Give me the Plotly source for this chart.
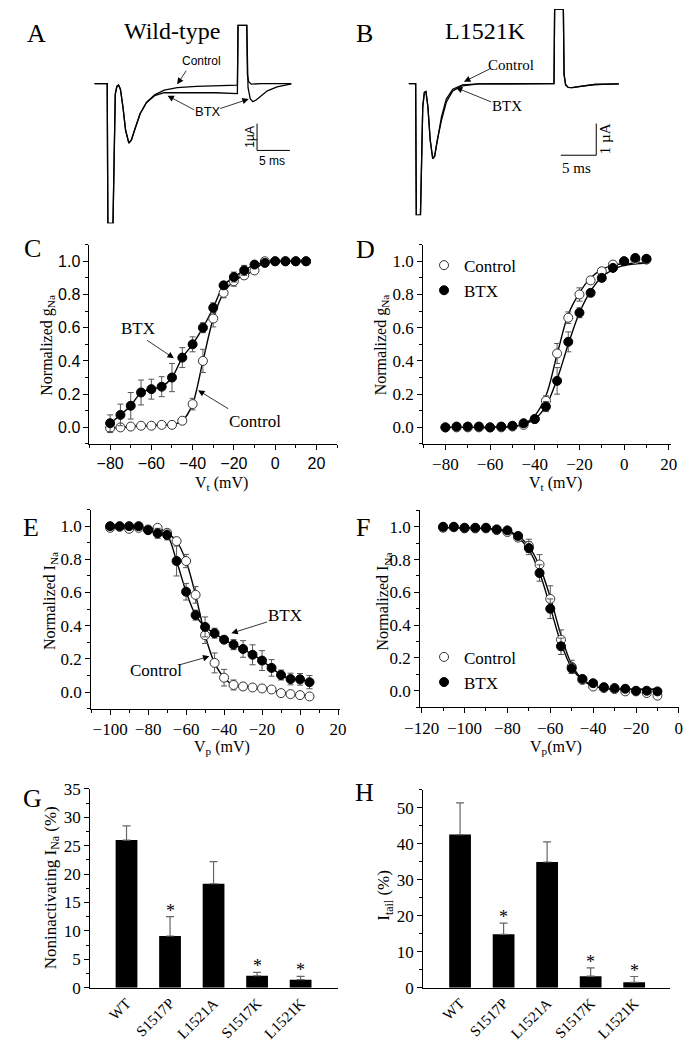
import plotly.graph_objects as go

W, H = 695, 1050
SERIF = "Liberation Serif"
SANS = "Liberation Sans"

def px(x):
    return x / W

def py(y):
    return 1 - y / H

# ---- A: wild-type current traces (ms, uA)
a_t_ctrl = [0, 1.96, 2.06, 2.84, 3.19, 3.43, 3.68, 3.97, 4.36, 4.75, 5.25, 5.64, 6.13, 6.96, 7.94, 9.17,
            10.64, 12.6, 15.54, 18.48, 21.76, 21.86, 23.19, 23.28, 23.48, 23.87, 25.34, 30.0]
a_i_ctrl = [0, 0, -5.21, -5.21, -0.39, -0.10, -0.05, -0.21, -0.88, -1.73, -2.22, -2.10, -1.73, -1.12, -0.70, -0.42,
            -0.24, -0.15, -0.10, -0.07, -0.06, 2.17, 2.17, 0.34, 0.07, -0.02, 0, 0]
a_t_btx = [0, 1.96, 2.06, 2.84, 3.19, 3.43, 3.68, 3.97, 4.36, 4.75, 5.25, 5.64, 6.13, 6.96, 7.94, 9.17,
           10.64, 12.6, 15.54, 18.48, 21.76, 21.86, 23.19, 23.38, 23.72, 24.12, 24.61, 25.34, 26.32, 27.79, 30.0]
a_i_btx = [0, 0, -5.21, -5.21, -0.39, -0.10, -0.05, -0.21, -0.88, -1.73, -2.22, -2.10, -1.73, -1.12, -0.70, -0.45,
           -0.34, -0.34, -0.33, -0.34, -0.37, 2.17, 2.17, -0.15, -0.57, -0.67, -0.61, -0.45, -0.27, -0.12, -0.01]

# ---- B: L1521K current traces (ms, uA)
b_t_ctrl = [0, 1.0, 1.09, 1.68, 2.0, 2.23, 2.45, 2.73, 3.05, 3.41, 3.68, 4.05, 4.64, 5.32, 6.23, 7.6, 9.87,
            20.51, 20.6, 21.83, 21.93, 22.15, 22.52, 23.06, 24.43, 26.25, 29.66]
b_i_ctrl = [0, 0, -4.15, -4.15, -0.74, -0.28, -0.25, -0.74, -1.78, -2.37, -2.29, -1.78, -1.05, -0.49, -0.18, -0.04, -0.01,
            0, 2.35, 2.35, 0.29, -0.04, -0.12, -0.13, -0.08, -0.03, -0.01]
b_t_btx = b_t_ctrl
b_i_btx = [0, 0, -4.15, -4.15, -0.74, -0.28, -0.25, -0.74, -1.78, -2.37, -2.29, -1.78, -1.16, -0.59, -0.23, -0.07, -0.01,
           0, 2.35, 2.35, 0.29, -0.04, -0.12, -0.13, -0.08, -0.03, -0.01]

# ---- C: activation, wild-type
c_v = [-80, -75, -70, -65, -60, -55, -50, -45, -40, -35, -30, -25, -20, -15, -10, -5, 0, 5, 10, 15]
c_btx = [0.025, 0.075, 0.13, 0.21, 0.23, 0.245, 0.30, 0.42, 0.50, 0.60, 0.72, 0.855, 0.905, 0.945, 0.98, 0.99, 1.0, 1.0, 1.0, 1.0]
c_btx_err = [0.05, 0.065, 0.08, 0.075, 0.06, 0.06, 0.085, 0.06, 0.045, 0.03, 0.03, 0.02, 0.03, 0.03, 0.015, 0.01, 0.01, 0.01, 0.01, 0.01]
c_ctrl = [-0.005, 0.0, 0.005, 0.01, 0.01, 0.015, 0.015, 0.04, 0.14, 0.40, 0.655, 0.81, 0.88, 0.915, 0.945, 1.0, 1.0, 1.0, 1.0, 1.0]
c_ctrl_err = [0.025, 0.015, 0.012, 0.012, 0.012, 0.012, 0.015, 0.015, 0.035, 0.07, 0.05, 0.03, 0.03, 0.02, 0.02, 0.01, 0.01, 0.01, 0.01, 0.01]

# ---- D: activation, L1521K
d_v = [-80, -75, -70, -65, -60, -55, -50, -45, -40, -35, -30, -25, -20, -15, -10, -5, 0, 5, 10]
d_btx = [0.0, 0.005, 0.005, 0.005, 0.0, 0.005, 0.01, 0.025, 0.05, 0.125, 0.28, 0.515, 0.69, 0.81, 0.90, 0.96, 1.0, 1.02, 1.015]
d_btx_err = [0.01, 0.01, 0.01, 0.01, 0.01, 0.01, 0.01, 0.01, 0.02, 0.03, 0.08, 0.06, 0.03, 0.02, 0.02, 0.01, 0.01, 0.01, 0.01]
d_ctrl = [0.0, 0.0, 0.0, 0.0, 0.0, 0.0, 0.005, 0.015, 0.05, 0.16, 0.445, 0.66, 0.80, 0.885, 0.94, 0.98, 1.0, 1.01, 1.01]
d_ctrl_err = [0.01, 0.01, 0.01, 0.01, 0.01, 0.01, 0.01, 0.01, 0.02, 0.03, 0.06, 0.035, 0.04, 0.02, 0.02, 0.01, 0.01, 0.01, 0.01]
d_fit_v = [-80, -70, -60, -50, -45, -40, -35, -30, -25, -20, -15, -10, -5, 0, 5, 10]
d_fit_ctrl = [0.0, 0.0, 0.0, 0.005, 0.02, 0.07, 0.19, 0.44, 0.68, 0.81, 0.90, 0.95, 0.975, 0.985, 0.988, 0.99]
d_fit_btx = [0.0, 0.0, 0.0, 0.005, 0.02, 0.05, 0.13, 0.29, 0.50, 0.69, 0.82, 0.905, 0.95, 0.975, 0.985, 0.99]

# ---- E: inactivation, wild-type
e_v = [-100, -95, -90, -85, -80, -75, -70, -65, -60, -55, -50, -45, -40, -35, -30, -25, -20, -15, -10, -5, 0, 5]
e_btx = [1.0, 1.0, 1.0, 1.0, 0.976, 0.957, 0.947, 0.79, 0.605, 0.464, 0.393, 0.355, 0.316, 0.286, 0.26, 0.225,
         0.19, 0.146, 0.103, 0.079, 0.077, 0.06]
e_btx_err = [0.01, 0.01, 0.01, 0.01, 0.02, 0.03, 0.03, 0.09, 0.05, 0.03, 0.06, 0.03, 0.02, 0.03, 0.05, 0.06,
             0.06, 0.05, 0.03, 0.035, 0.035, 0.04]
e_ctrl = [0.99, 0.996, 0.984, 0.99, 0.98, 0.99, 0.96, 0.91, 0.79, 0.586, 0.343, 0.176, 0.087, 0.043, 0.034, 0.028,
          0.022, 0.016, -0.006, -0.012, -0.018, -0.026]
e_ctrl_err = [0.015, 0.01, 0.015, 0.01, 0.01, 0.015, 0.02, 0.02, 0.04, 0.05, 0.05, 0.06, 0.05, 0.03, 0.02, 0.015,
              0.01, 0.01, 0.01, 0.01, 0.01, 0.01]

# ---- F: inactivation, L1521K
f_v = [-110, -105, -100, -95, -90, -85, -80, -75, -70, -65, -60, -55, -50, -45, -40, -35, -30, -25, -20, -15, -10]
f_btx = [1.0, 1.0, 0.994, 0.994, 0.994, 0.984, 0.978, 0.944, 0.87, 0.718, 0.5, 0.271, 0.136, 0.072, 0.046, 0.022,
         0.016, 0.012, 0.0, 0.0, -0.004]
f_btx_err = [0.005, 0.005, 0.005, 0.005, 0.005, 0.01, 0.01, 0.02, 0.04, 0.05, 0.06, 0.05, 0.03, 0.015, 0.01, 0.01,
             0.01, 0.01, 0.01, 0.01, 0.01]
f_ctrl = [0.994, 0.997, 0.99, 0.99, 0.99, 0.98, 0.968, 0.934, 0.884, 0.77, 0.56, 0.311, 0.146, 0.066, 0.026, 0.016,
          0.01, -0.004, -0.004, -0.014, -0.03]
f_ctrl_err = [0.005, 0.005, 0.005, 0.005, 0.005, 0.01, 0.01, 0.02, 0.04, 0.06, 0.08, 0.06, 0.04, 0.015, 0.01, 0.01,
              0.01, 0.01, 0.01, 0.01, 0.01]
f_fit_v = [-110, -100, -90, -80, -75, -70, -65, -60, -55, -50, -45, -40, -35, -30, -20, -10]
f_fit_ctrl = [0.995, 0.993, 0.99, 0.975, 0.945, 0.88, 0.76, 0.57, 0.34, 0.16, 0.07, 0.03, 0.015, 0.01, 0.008, 0.008]
f_fit_btx = [0.995, 0.993, 0.988, 0.97, 0.935, 0.86, 0.72, 0.51, 0.29, 0.14, 0.065, 0.03, 0.015, 0.01, 0.01, 0.01]

# ---- G, H: bar charts
mutants = ["WT", "S1517P", "L1521A", "S1517K", "L1521K"]
g_val = [26.0, 9.1, 18.3, 2.1, 1.4]
g_err = [2.5, 3.4, 3.9, 0.6, 0.6]
h_val = [42.5, 14.8, 34.9, 3.2, 1.5]
h_err = [8.8, 3.1, 5.6, 2.3, 1.6]
significant = [False, True, False, True, True]

fig = go.Figure()

trace_line = dict(color="black", width=1.3)
for t, i in [(a_t_ctrl, a_i_ctrl), (a_t_btx, a_i_btx)]:
    fig.add_trace(go.Scatter(x=t, y=i, mode="lines", line=trace_line, xaxis="x", yaxis="y", showlegend=False))
for t, i in [(b_t_ctrl, b_i_ctrl), (b_t_btx, b_i_btx)]:
    fig.add_trace(go.Scatter(x=t, y=i, mode="lines", line=trace_line, xaxis="x2", yaxis="y2", showlegend=False))

# scale bars (5 ms, 1 uA)
fig.add_trace(go.Scatter(x=[24.75, 24.75, 24.75 + 5], y=[-1.49, -2.49, -2.49], mode="lines",
                         line=dict(color="black", width=1), xaxis="x", yaxis="y", showlegend=False))
fig.add_trace(go.Scatter(x=[26.47 - 5, 26.47, 26.47], y=[-2.26, -2.26, -1.26], mode="lines",
                         line=dict(color="black", width=1), xaxis="x2", yaxis="y2", showlegend=False))

def err(arr):
    return dict(type="data", array=arr, visible=True, color="#555", thickness=1, width=3)

open_marker = dict(symbol="circle", size=9, color="white", line=dict(color="#333", width=1))
filled_marker = dict(symbol="circle", size=9, color="black", line=dict(color="black", width=1))
fit_line = dict(color="black", width=1.4)

# C
fig.add_trace(go.Scatter(x=c_v, y=c_ctrl, mode="lines", line=dict(fit_line, shape="spline", smoothing=0.8),
                         xaxis="x3", yaxis="y3", showlegend=False))
fig.add_trace(go.Scatter(x=c_v, y=c_btx, mode="lines", line=dict(fit_line, shape="spline", smoothing=0.8),
                         xaxis="x3", yaxis="y3", showlegend=False))
fig.add_trace(go.Scatter(x=c_v, y=c_ctrl, mode="markers", marker=open_marker, error_y=err(c_ctrl_err),
                         xaxis="x3", yaxis="y3", showlegend=False))
fig.add_trace(go.Scatter(x=c_v, y=c_btx, mode="markers", marker=filled_marker, error_y=err(c_btx_err),
                         xaxis="x3", yaxis="y3", showlegend=False))

# D
fig.add_trace(go.Scatter(x=d_fit_v, y=d_fit_ctrl, mode="lines", line=dict(fit_line, shape="spline"),
                         xaxis="x4", yaxis="y4", showlegend=False))
fig.add_trace(go.Scatter(x=d_fit_v, y=d_fit_btx, mode="lines", line=dict(fit_line, shape="spline"),
                         xaxis="x4", yaxis="y4", showlegend=False))
fig.add_trace(go.Scatter(x=d_v, y=d_ctrl, mode="markers", marker=open_marker, error_y=err(d_ctrl_err),
                         name="Control", legend="legend", xaxis="x4", yaxis="y4"))
fig.add_trace(go.Scatter(x=d_v, y=d_btx, mode="markers", marker=filled_marker, error_y=err(d_btx_err),
                         name="BTX", legend="legend", xaxis="x4", yaxis="y4"))

# E
fig.add_trace(go.Scatter(x=e_v, y=e_ctrl, mode="lines", line=dict(fit_line, shape="spline", smoothing=0.8),
                         xaxis="x5", yaxis="y5", showlegend=False))
fig.add_trace(go.Scatter(x=e_v, y=e_btx, mode="lines", line=dict(fit_line, shape="spline", smoothing=0.8),
                         xaxis="x5", yaxis="y5", showlegend=False))
fig.add_trace(go.Scatter(x=e_v, y=e_ctrl, mode="markers", marker=open_marker, error_y=err(e_ctrl_err),
                         xaxis="x5", yaxis="y5", showlegend=False))
fig.add_trace(go.Scatter(x=e_v, y=e_btx, mode="markers", marker=filled_marker, error_y=err(e_btx_err),
                         xaxis="x5", yaxis="y5", showlegend=False))

# F
fig.add_trace(go.Scatter(x=f_fit_v, y=f_fit_ctrl, mode="lines", line=dict(fit_line, shape="spline"),
                         xaxis="x6", yaxis="y6", showlegend=False))
fig.add_trace(go.Scatter(x=f_fit_v, y=f_fit_btx, mode="lines", line=dict(fit_line, shape="spline"),
                         xaxis="x6", yaxis="y6", showlegend=False))
fig.add_trace(go.Scatter(x=f_v, y=f_ctrl, mode="markers", marker=open_marker, error_y=err(f_ctrl_err),
                         name="Control", legend="legend2", xaxis="x6", yaxis="y6"))
fig.add_trace(go.Scatter(x=f_v, y=f_btx, mode="markers", marker=filled_marker, error_y=err(f_btx_err),
                         name="BTX", legend="legend2", xaxis="x6", yaxis="y6"))

# G, H bars
for vals, errs, xa, ya in [(g_val, g_err, "x7", "y7"), (h_val, h_err, "x8", "y8")]:
    fig.add_trace(go.Bar(x=mutants, y=vals, width=0.5, marker=dict(color="black", line=dict(width=0)),
                         error_y=dict(type="data", array=errs, arrayminus=[0] * len(errs), symmetric=False,
                                      color="#666", thickness=1.2, width=4),
                         xaxis=xa, yaxis=ya, showlegend=False))

def axis(domain, rng, **kw):
    d = dict(domain=domain, range=rng, showline=True, linecolor="black", linewidth=1, ticks="outside",
             ticklen=5, tickwidth=1, tickcolor="black", showgrid=False, zeroline=False,
             tickfont=dict(family=SERIF, size=17, color="black"))
    d.update(kw)
    return d

def xdom(a, b):
    return [px(a), px(b)]

def ydom(top, bottom):
    return [py(bottom), py(top)]

def minor(step):
    return dict(ticks="outside", ticklen=3, dtick=step, tickcolor="black")

hidden = dict(visible=False, showgrid=False, zeroline=False)
sans_tick = dict(family=SANS, size=16, color="black")
cat_font = dict(family=SERIF, size=15, color="black")
legend_font = dict(family=SERIF, size=17, color="black")

fig.update_layout(
    width=W, height=H, margin=dict(l=0, r=0, t=0, b=0),
    paper_bgcolor="white", plot_bgcolor="white",
    xaxis=dict(hidden, domain=xdom(81, 285), range=[0, 30], anchor="y"),
    yaxis=dict(hidden, domain=ydom(5, 218.3), range=[-5.21, 2.6], anchor="x"),
    xaxis2=dict(hidden, domain=xdom(406, 626), range=[0, 30], anchor="y2"),
    yaxis2=dict(hidden, domain=ydom(0, 210), range=[-4.15, 2.35], anchor="x2"),
    xaxis3=axis(xdom(76, 332), [-90, 30], anchor="y3", tickmode="linear", tick0=-80, dtick=20,
                minor=minor(10), tickfont=sans_tick),
    yaxis3=axis(ydom(240, 443), [-0.1, 1.1], anchor="x3", tickmode="linear", tick0=0, dtick=0.2,
                tickformat=".1f", minor=minor(0.1), tickfont=sans_tick),
    xaxis4=axis(xdom(421, 677), [-90, 20.8], anchor="y4", tickmode="linear", tick0=-80, dtick=20, minor=minor(10)),
    yaxis4=axis(ydom(240, 443), [-0.1, 1.1], anchor="x4", tickmode="linear", tick0=0, dtick=0.2,
                tickformat=".1f", minor=minor(0.1)),
    xaxis5=axis(xdom(77.7, 335), [-110, 21], anchor="y5", tickmode="linear", tick0=-100, dtick=20, minor=minor(10)),
    yaxis5=axis(ydom(509.8, 712.6), [-0.1, 1.1], anchor="x5", tickmode="linear", tick0=0, dtick=0.2,
                tickformat=".1f", minor=minor(0.1)),
    xaxis6=axis(xdom(418, 686), [-120.7, 0.2], anchor="y6", tickmode="linear", tick0=-120, dtick=20,
                minor=minor(10)),
    yaxis6=axis(ydom(510.6, 711), [-0.1, 1.1], anchor="x6", tickmode="linear", tick0=0, dtick=0.2,
                tickformat=".1f", minor=minor(0.1)),
    xaxis7=axis(xdom(76.7, 333.3), [-0.835, 4.865], anchor="y7", type="category", ticks="",
                tickangle=-45, tickfont=cat_font),
    yaxis7=axis(ydom(794.3, 996.7), [0, 35], anchor="x7", tickmode="linear", tick0=0, dtick=5, minor=minor(2.5)),
    xaxis8=axis(xdom(421, 676.7), [-0.85, 4.83], anchor="y8", type="category", ticks="",
                tickangle=-45, tickfont=cat_font),
    yaxis8=axis(ydom(795, 996.7), [0, 55], anchor="x8", tickmode="linear", tick0=0, dtick=10, minor=minor(5)),
    legend=dict(x=px(422), y=py(243), xanchor="left", yanchor="top", font=legend_font,
                bgcolor="rgba(0,0,0,0)", itemwidth=30, tracegroupgap=0),
    legend2=dict(x=px(422), y=py(642), xanchor="left", yanchor="top", font=legend_font,
                 bgcolor="rgba(0,0,0,0)", itemwidth=30, tracegroupgap=0),
)

annotations = []

def label(x, y, text, size, family=SERIF, angle=0, xanchor="center"):
    annotations.append(dict(x=px(x), y=py(y), xref="paper", yref="paper", text=text, showarrow=False,
                            font=dict(size=size, family=family, color="black"), textangle=angle,
                            xanchor=xanchor, yanchor="middle"))

def arrow(tail, head):
    annotations.append(dict(x=px(head[0]), y=py(head[1]), xref="paper", yref="paper", text="",
                            showarrow=True, ax=tail[0] - head[0], ay=tail[1] - head[1],
                            arrowhead=2, arrowsize=1.6, arrowwidth=0.8, arrowcolor="black"))

# panel letters and titles
for letter, x, y in [("A", 21, 25), ("B", 360, 25), ("C", 17.5, 243.5), ("D", 361.7, 245),
                     ("E", 15, 528), ("F", 359, 528), ("G", 16.7, 804), ("H", 360, 798)]:
    label(x, y, letter, 26)
label(161.7, 22, "Wild-type", 24)
label(485.8, 22, "L1521K", 24)

# A annotations
label(191.7, 53, "Control", 12, SANS)
arrow((176.7, 61.7), (166.7, 76.7))
label(198.3, 104, "BTX", 13, SANS)
arrow((185, 103.3), (156.7, 88.3))
arrow((210.7, 101.7), (240.7, 91.7))
label(242, 130, "1µA", 12, SANS, angle=-90)
label(265, 155, "5 ms", 12, SANS)

# B annotations
label(512, 57.5, "Control", 15)
arrow((491.7, 60), (463.3, 74))
label(508, 98.3, "BTX", 15)
arrow((491.7, 95), (455, 80))
label(609, 131.7, "1 µA", 15, angle=-90)
label(580, 161.7, "5 ms", 15)

# C annotations
label(125.8, 325, "BTX", 17)
arrow((135, 336.7), (163.3, 355.7))
label(247, 420, "Control", 17)
arrow((220, 407.7), (188.3, 388.3))

# E annotations
label(278.3, 617.5, "BTX", 17)
arrow((260, 624), (222.7, 635.7))
label(145.3, 673.3, "Control", 17)
arrow((168.3, 668.3), (200, 659.3))

# axis titles
label(33, 342, "Normalized g<sub>Na</sub>", 16, angle=-90)
label(378, 342, "Normalized g<sub>Na</sub>", 16, angle=-90)
label(213, 483, "V<sub>t</sub> (mV)", 16)
label(558, 483, "V<sub>t</sub> (mV)", 16)
label(35, 603, "Normalized I<sub>Na</sub>", 16, angle=-90)
label(380, 603, "Normalized I<sub>Na</sub>", 16, angle=-90)
label(213, 752, "V<sub>p</sub> (mV)", 16)
label(558, 752, "V<sub>p</sub>(mV)", 16)
label(36.7, 895, "Noninactivating I<sub>Na</sub> (%)", 17, angle=-90)
label(381.7, 903, "I<sub>tail</sub> (%)", 17, angle=-90)

# significance stars
for vals, errs, xa, ya in [(g_val, g_err, "x7", "y7"), (h_val, h_err, "x8", "y8")]:
    for m, v, e, s in zip(mutants, vals, errs, significant):
        if s:
            annotations.append(dict(x=m, y=v + e, xref=xa, yref=ya, text="*", showarrow=False,
                                    font=dict(size=18, family=SERIF, color="black"),
                                    yanchor="bottom", yshift=-6))

fig.update_layout(annotations=annotations)
fig.write_html("out.html", config={"displayModeBar": False},
               post_script="document.body.style.margin='0';document.body.style.overflow='hidden';")
